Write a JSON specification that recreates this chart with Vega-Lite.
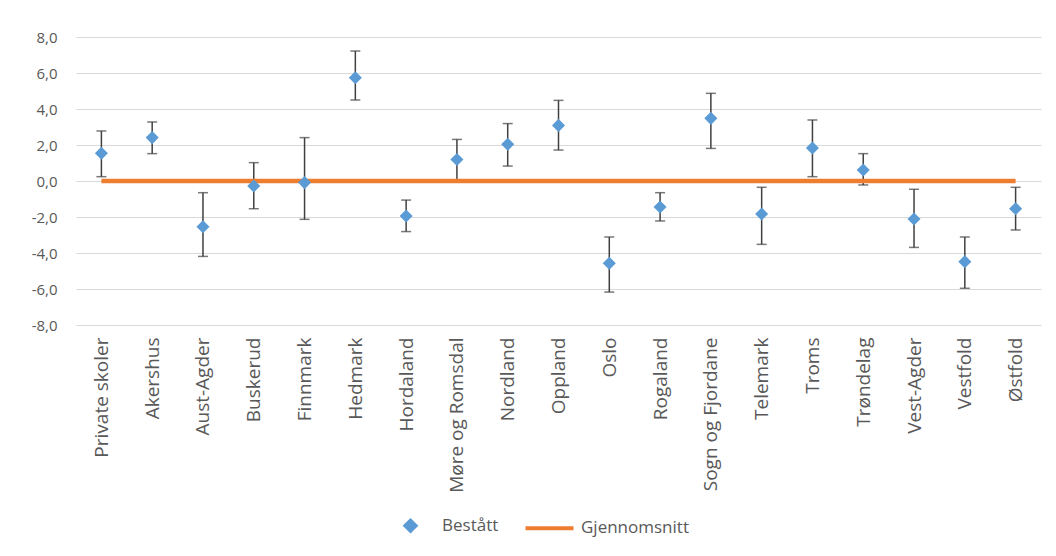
{
  "$schema": "https://vega.github.io/schema/vega-lite/v6.json",
  "autosize": "none",
  "width": 965,
  "height": 288,
  "padding": {"left": 76, "top": 37, "right": 15, "bottom": 231},
  "background": "white",
  "config": {
    "locale": {"number": {"decimal": ",", "thousands": " ", "grouping": [3], "currency": ["", " kr"], "minus": "-"}},
    "view": {"stroke": null},
    "font": "Open Sans",
    "axis": {"labelColor": "#595959", "labelFont": "Open Sans", "labelFontSize": 14, "gridColor": "#D9D9D9", "gridWidth": 1, "ticks": false, "domain": false, "title": null, "labelOverlap": false},
    "legend": {"labelColor": "#595959", "labelFont": "Open Sans", "labelFontSize": 17}
  },
  "data": {
    "values": [
      {"region": "Private skoler", "value": 1.54, "lo": 0.24, "hi": 2.78, "avg": 0},
      {"region": "Akershus", "value": 2.41, "lo": 1.52, "hi": 3.28, "avg": 0},
      {"region": "Aust-Agder", "value": -2.54, "lo": -4.19, "hi": -0.65, "avg": 0},
      {"region": "Buskerud", "value": -0.28, "lo": -1.54, "hi": 1.02, "avg": 0},
      {"region": "Finnmark", "value": -0.09, "lo": -2.13, "hi": 2.41, "avg": 0},
      {"region": "Hedmark", "value": 5.74, "lo": 4.5, "hi": 7.22, "avg": 0},
      {"region": "Hordaland", "value": -1.94, "lo": -2.81, "hi": -1.06, "avg": 0},
      {"region": "Møre og Romsdal", "value": 1.2, "lo": 0.0, "hi": 2.31, "avg": 0},
      {"region": "Nordland", "value": 2.04, "lo": 0.83, "hi": 3.19, "avg": 0},
      {"region": "Oppland", "value": 3.09, "lo": 1.72, "hi": 4.48, "avg": 0},
      {"region": "Oslo", "value": -4.57, "lo": -6.17, "hi": -3.11, "avg": 0},
      {"region": "Rogaland", "value": -1.44, "lo": -2.22, "hi": -0.65, "avg": 0},
      {"region": "Sogn og Fjordane", "value": 3.48, "lo": 1.81, "hi": 4.87, "avg": 0},
      {"region": "Telemark", "value": -1.83, "lo": -3.52, "hi": -0.35, "avg": 0},
      {"region": "Troms", "value": 1.83, "lo": 0.24, "hi": 3.39, "avg": 0},
      {"region": "Trøndelag", "value": 0.61, "lo": -0.22, "hi": 1.52, "avg": 0},
      {"region": "Vest-Agder", "value": -2.11, "lo": -3.69, "hi": -0.46, "avg": 0},
      {"region": "Vestfold", "value": -4.48, "lo": -5.96, "hi": -3.11, "avg": 0},
      {"region": "Østfold", "value": -1.54, "lo": -2.72, "hi": -0.35, "avg": 0}
    ]
  },
  "encoding": {
    "x": {
      "field": "region", "type": "nominal", "sort": null,
      "scale": {"type": "point", "padding": 0.5},
      "axis": {"labelAngle": -90, "labelPadding": 12, "grid": false, "labelFontSize": 19}
    }
  },
  "layer": [
    {
      "mark": {"type": "rule", "color": "#404040", "strokeWidth": 1.5},
      "encoding": {
        "y": {"field": "lo", "type": "quantitative", "scale": {"domain": [-8, 8], "nice": false},
          "axis": {"values": [-8, -6, -4, -2, 0, 2, 4, 6, 8], "tickCount": 20, "format": ".1f", "labelPadding": 19, "grid": true, "labelFontSize": 15}},
        "y2": {"field": "hi"}
      }
    },
    {
      "mark": {"type": "tick", "color": "#404040", "thickness": 1.5, "size": 10},
      "encoding": {"y": {"field": "lo", "type": "quantitative"}}
    },
    {
      "mark": {"type": "tick", "color": "#404040", "thickness": 1.5, "size": 10},
      "encoding": {"y": {"field": "hi", "type": "quantitative"}}
    },
    {
      "mark": {"type": "line", "strokeWidth": 4.5},
      "encoding": {
        "y": {"field": "avg", "type": "quantitative"},
        "color": {"datum": "Gjennomsnitt"}
      }
    },
    {
      "mark": {"type": "point", "filled": true, "size": 170, "opacity": 1},
      "encoding": {
        "y": {"field": "value", "type": "quantitative"},
        "shape": {
          "datum": "Bestått",
          "scale": {"domain": ["Bestått", "Gjennomsnitt"], "range": ["diamond", "M-4.8,0L4.8,0"]},
          "legend": null
        },
        "color": {
          "datum": "Bestått",
          "scale": {"domain": ["Bestått", "Gjennomsnitt"], "range": ["#5B9BD5", "#ED7D31"]},
          "legend": {
            "title": null, "orient": "none", "direction": "horizontal",
            "legendX": 326, "legendY": 480,
            "symbolSize": 100, "labelOffset": 23, "columnPadding": 18,
            "symbolStrokeWidth": 4,
            "encode": {
              "symbols": {
                "update": {
                  "strokeWidth": {"signal": "datum.value === 'Gjennomsnitt' ? 4 : 0"},
                  "stroke": {"signal": "datum.value === 'Gjennomsnitt' ? '#ED7D31' : '#5B9BD5'"},
                  "fill": {"signal": "datum.value === 'Gjennomsnitt' ? 'transparent' : '#5B9BD5'"},
                  "opacity": {"value": 1}
                }
              }
            }
          }
        }
      }
    }
  ]
}
